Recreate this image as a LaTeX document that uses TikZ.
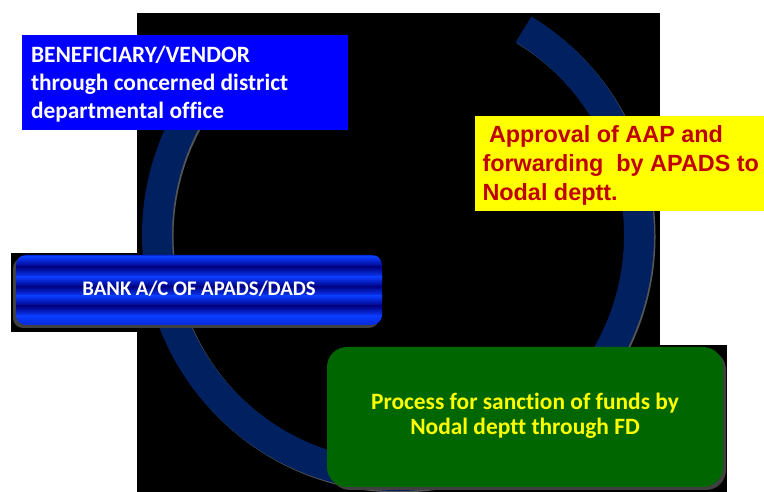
\documentclass[tikz,border=0pt]{standalone}
\usepackage{fontspec}
\setmainfont{Carlito}[Ligatures=NoCommon]
\newfontfamily\arialfont{Liberation Sans}
\definecolor{boxblue}{HTML}{0000FF}
\definecolor{arcnavy}{HTML}{002060}
\definecolor{yel}{HTML}{FFFF00}
\definecolor{darkred}{HTML}{C00000}
\definecolor{grn}{HTML}{006600}
\definecolor{barbright}{HTML}{0A3CFF}
\definecolor{barmid}{HTML}{0528D8}
\definecolor{bardark}{HTML}{000080}
\definecolor{shadowgray}{HTML}{404040}
\definecolor{arcshadow}{HTML}{555555}
\tikzset{
  plainbox/.style={inner sep=0pt, outer sep=0pt, anchor=south west, draw=none},
  txt/.style={inner sep=0pt, outer sep=0pt},
  ring/.style={line width=30pt, arcnavy},
}
\begin{document}
\begin{tikzpicture}[x=1pt,y=1pt]
\useasboundingbox (0,0) rectangle (764,492);
% black backgrounds
\fill[black] (137,0) rectangle (660,479);
\fill[black] (11,160) rectangle (137,239);
\fill[black] (323,0) rectangle (727,147);
% ring
\draw[line width=30pt, arcshadow] ([shift={(399.5,255.5)}]58.6:241) arc[start angle=58.6, end angle=-220, radius=241];
\draw[ring] ([shift={(398,257)}]58.6:241) arc[start angle=58.6, end angle=-220, radius=241];
% beneficiary box
\node[plainbox, fill=boxblue, minimum width=326pt, minimum height=95pt] (benef) at (22,362) {};
\node[txt, anchor=base west, text=white] (benefT) at (31,429.7)
  {\parbox[t]{320pt}{\raggedright\fontsize{23.4}{28}\selectfont\bfseries BENEFICIARY/VENDOR\\ through concerned district\\ departmental office}};
% approval box
\node[plainbox, fill=yel, minimum width=289pt, minimum height=95pt] (aap) at (475,281) {};
\node[txt, anchor=base west, text=darkred] (aapT) at (482.5,349.3)
  {\parbox[t]{300pt}{\raggedright\arialfont\fontsize{23.4}{29}\selectfont\bfseries\hspace*{6.5pt}Approval of AAP and\\ forwarding~ by APADS to\\ Nodal deptt.}};
% bank bar
\fill[shadowgray, rounded corners=10pt] (13,164) rectangle (379,234);
\begin{scope}
  \clip[rounded corners=10pt] (16,167) rectangle (382,237);
  \foreach \ya/\yb/\ct/\cb in {237/235/barmid/barbright, 235/225/barbright/bardark,
      225/215/bardark/barbright, 215/205.5/barbright/bardark, 205.5/196/bardark/barbright,
      196/186/barbright/bardark, 186/176/bardark/barbright, 176/167/barbright/barmid}
    \shade[top color=\ct, bottom color=\cb] (10,\ya+0.3) rectangle (390,\yb-0.3);
\end{scope}
\node[plainbox, minimum width=366pt, minimum height=70pt, rounded corners=10pt] (bank) at (16,167) {};
\node[txt, anchor=base, text=white] (bankT) at (199,196)
  {\fontsize{20.7}{24}\selectfont\bfseries BANK A/C OF APADS/DADS};
% sanction box
\fill[shadowgray, rounded corners=20pt] (330,2) rectangle (726,142);
\node[plainbox, fill=grn, rounded corners=20pt, minimum width=396pt, minimum height=140pt] (sanct) at (327,5) {};
\node[txt, anchor=base, text=yel] (sanctT) at (525,82)
  {\parbox[t]{396pt}{\centering\fontsize{23.4}{24.5}\selectfont\bfseries Process for sanction of funds by\\ Nodal deptt through FD}};
\end{tikzpicture}
\end{document}
